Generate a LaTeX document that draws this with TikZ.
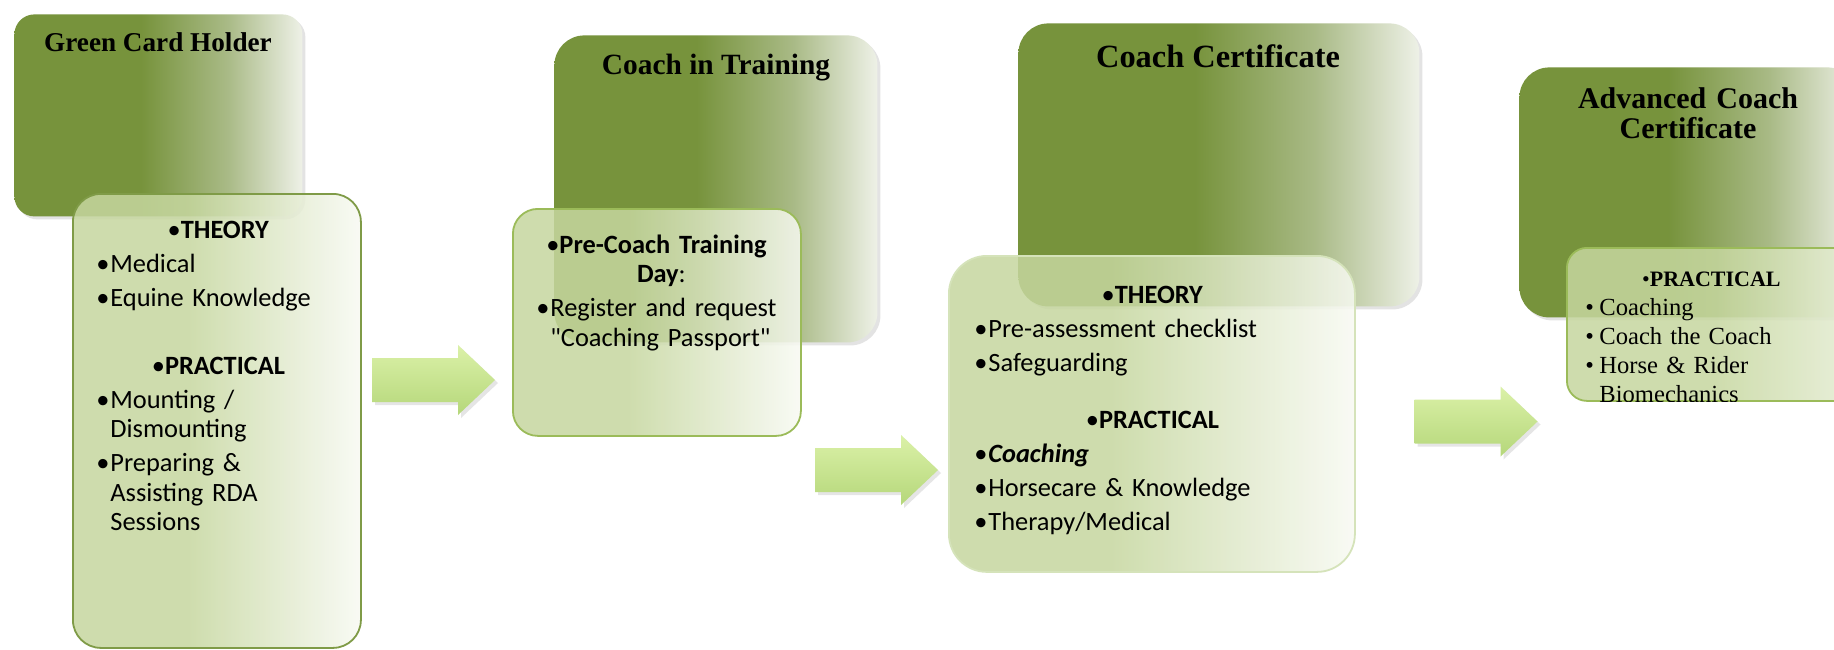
\documentclass[tikz,border=0pt]{standalone}
\usepackage{fontspec}
\setmainfont{Carlito}
\newfontfamily\capfont{Liberation Serif}
\usetikzlibrary{shadows}

\definecolor{olivedark}{HTML}{77933C}
\definecolor{olivemid}{HTML}{A9BA86}
\definecolor{olivefade}{HTML}{EEF1E7}
\definecolor{sagelight}{HTML}{C6D79F}
\definecolor{sagefade}{HTML}{F8FAF3}
\definecolor{rimdark}{HTML}{7F9B47}
\definecolor{rimmid}{HTML}{9BBB59}
\definecolor{rimpale}{HTML}{D5E3BA}
\definecolor{arrowtop}{HTML}{DBF1A8}
\definecolor{arrowbot}{HTML}{B5D77A}

\pgfdeclarehorizontalshading{titlefade}{100bp}{color(0bp)=(olivedark); color(47bp)=(olivedark); color(62bp)=(olivemid); color(75bp)=(olivefade); color(100bp)=(olivefade)}
\pgfdeclarehorizontalshading{notefade}{100bp}{color(0bp)=(sagelight); color(45bp)=(sagelight); color(75bp)=(sagefade); color(100bp)=(sagefade)}

% centred heading and hanging bullet item
\newcommand{\hd}[1]{{\centering\textbullet\textbf{#1}\par}}
\newcommand{\itm}[1]{{\raggedright\hangindent=7pt\hangafter=1\noindent\makebox[7pt][l]{\textbullet}#1\par}}

\begin{document}
\begin{tikzpicture}[x=0.5pt,y=-0.5pt,
  titlebox/.style={shade,shading=titlefade,rounded corners=13pt,anchor=north west,inner sep=0pt,
    drop shadow={shadow xshift=1.5pt,shadow yshift=-1.5pt,opacity=0.22}},
  notebox/.style={shade,shading=notefade,fill opacity=0.85,rounded corners=14pt,line width=0.9pt,
    anchor=north west,inner sep=0pt},
  titletext/.style={font=\capfont\bfseries\fontsize{#1}{15}\selectfont,inner sep=0pt,anchor=base},
  notetext/.style={font=\fontsize{13.2}{14.75}\selectfont,inner sep=0pt,anchor=base west,
    execute at begin node={\setlength{\parskip}{2.25pt}}},
  stepper/.pic={
    \path[top color=arrowtop,bottom color=arrowbot,
      drop shadow={shadow xshift=1.5pt,shadow yshift=-1.5pt,opacity=0.2}]
      (-61.5,-22) -- (24.5,-22) -- (24.5,-35) -- (61.5,0) -- (24.5,35) -- (24.5,22) -- (-61.5,22) -- cycle;
  }]
  \useasboundingbox (0,0) rectangle (1834,649);
  \fill[white] (0,0) rectangle (1834,649);
  \clip (0,0) rectangle (1834,649);

  % Green Card Holder
  \node[titlebox,minimum width=144pt,minimum height=101pt,rounded corners=10pt] (gch) at (14,14) {};
  \node[notebox,draw=rimdark,minimum width=144pt,minimum height=227pt] (gch-note) at (72,193) {};
  \node[titletext=13.6] (gch-title) at (158,51) {Green Card Holder};
  \node[notetext,text width=122pt] (gch-list) at (96,238) {%
    \hd{THEORY}
    \itm{Medical}
    \itm{Equine Knowledge}
    \vspace{17pt}
    \hd{PRACTICAL}
    \itm{Mounting /\newline Dismounting}
    \itm{Preparing \&\newline Assisting RDA\newline Sessions}};

  % Coach in Training
  \node[titlebox,minimum width=161.5pt,minimum height=153.5pt,rounded corners=15pt] (cit) at (554,35) {};
  \node[notebox,draw=rimmid,minimum width=144pt,minimum height=113.5pt,rounded corners=12.5pt] (cit-note) at (512,208) {};
  \node[titletext=14.7] (cit-title) at (716,74) {Coach in Training};
  \node[notetext,text width=125pt] (cit-list) at (536,253) {%
    {\centering\textbullet\textbf{Pre-Coach Training}\newline\textbf{Day}:\par}
    \itm{Register and request\newline\textquotedbl Coaching Passport\textquotedbl}};

  % Coach Certificate
  \node[titlebox,minimum width=200.5pt,minimum height=141.5pt,rounded corners=15pt] (cc) at (1018,23) {};
  \node[notebox,draw=rimpale,minimum width=203pt,minimum height=158pt,rounded corners=19pt] (cc-note) at (948,255) {};
  \node[titletext=16.2] (cc-title) at (1218,67) {Coach Certificate};
  \node[notetext,text width=178pt] (cc-list) at (974,303) {%
    \hd{THEORY}
    \itm{Pre-assessment checklist}
    \itm{Safeguarding}
    \vspace{11.5pt}
    \hd{PRACTICAL}
    \itm{\textbf{\textit{Coaching}}}
    \itm{Horsecare \& Knowledge}
    \itm{Therapy/Medical}};

  % Advanced Coach Certificate
  \node[titlebox,minimum width=169pt,minimum height=125pt,rounded corners=15pt] (acc) at (1519,67) {};
  \node[notebox,draw=rimmid,minimum width=185pt,minimum height=76.5pt,rounded corners=10pt] (acc-note) at (1566,247) {};
  \node[titletext=15,text width=170pt,align=center] (acc-title) at (1688,108) {Advanced Coach\\Certificate};
  \begin{scope}
    \clip[rounded corners=10pt] (acc-note.north west) rectangle (acc-note.south east);
    \node[inner sep=0pt,anchor=base west,text width=126pt,font=\capfont\fontsize{12.3}{14.5}\selectfont] (acc-list) at (1585,286) {%
      {\centering\fontsize{11}{14.5}\selectfont\textbullet\textbf{PRACTICAL}\par}
      \itm{Coaching}
      \itm{Coach the Coach}
      \itm{Horse \& Rider\newline Biomechanics}};
  \end{scope}

  % block arrows
  \pic (step1) at (433.5,380) {stepper};
  \pic (step2) at (876.5,470) {stepper};
  \pic (step3) at (1476,421.5) {stepper};
\end{tikzpicture}
\end{document}
